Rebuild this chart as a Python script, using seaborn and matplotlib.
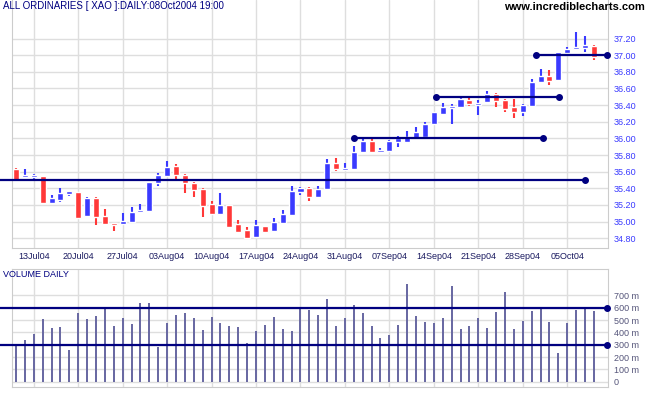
import numpy as np
import seaborn as sns
import matplotlib.pyplot as plt

# daily candles (index 0 = 9 Jul 2004)
opens = [35.63, 35.54, 35.54, 35.55, 35.22, 35.26, 35.33, 35.36, 35.07, 35.28,
         35.07, 34.98, 34.97, 35.00, 35.12, 35.13, 35.46, 35.55, 35.67, 35.56,
         35.46, 35.39, 35.21, 35.09, 35.20, 34.97, 34.90, 34.82, 34.95, 34.89,
         34.98, 35.08, 35.36, 35.40, 35.30, 35.39, 35.70, 35.62, 35.63, 35.84,
         35.97, 35.84, 35.85, 35.96, 35.96, 36.00, 36.02, 36.17, 36.29, 36.37,
         36.38, 36.46, 36.40, 36.44, 36.53, 36.46, 36.38, 36.32, 36.39, 36.68,
         36.75, 36.70, 37.03, 37.07, 37.09, 37.11]
highs = [35.64, 35.63, 35.57, 35.55, 35.32, 35.40, 35.37, 35.36, 35.29, 35.29,
         35.15, 34.98, 35.10, 35.18, 35.21, 35.48, 35.58, 35.73, 35.69, 35.57,
         35.47, 35.40, 35.25, 35.34, 35.20, 35.02, 34.94, 35.02, 34.95, 35.04,
         35.14, 35.43, 35.41, 35.41, 35.43, 35.75, 35.76, 35.70, 35.91, 35.99,
         36.00, 35.88, 35.98, 36.03, 36.09, 36.14, 36.20, 36.32, 36.43, 36.41,
         36.49, 36.51, 36.46, 36.57, 36.54, 36.47, 36.47, 36.41, 36.71, 36.83,
         36.82, 37.04, 37.10, 37.28, 37.23, 37.12]
lows = [35.49, 35.53, 35.49, 35.21, 35.22, 35.24, 35.31, 35.03, 35.06, 34.96,
        34.96, 34.89, 34.96, 34.99, 35.11, 35.12, 35.43, 35.54, 35.51, 35.34,
        35.30, 35.06, 35.08, 35.08, 34.92, 34.87, 34.80, 34.81, 34.86, 34.88,
        34.98, 35.07, 35.32, 35.25, 35.29, 35.39, 35.61, 35.61, 35.63, 35.83,
        35.83, 35.82, 35.84, 35.90, 35.95, 36.00, 36.01, 36.17, 36.28, 36.17,
        36.37, 36.39, 36.28, 36.43, 36.38, 36.32, 36.25, 36.27, 36.38, 36.67,
        36.64, 36.70, 37.02, 37.07, 37.04, 36.94]
closes = [35.50, 35.55, 35.56, 35.22, 35.28, 35.34, 35.37, 35.04, 35.28, 35.06,
          34.97, 34.96, 35.01, 35.12, 35.14, 35.48, 35.56, 35.66, 35.56, 35.46,
          35.38, 35.19, 35.09, 35.20, 34.94, 34.88, 34.80, 34.96, 34.88, 35.00,
          35.09, 35.37, 35.40, 35.30, 35.39, 35.70, 35.63, 35.64, 35.84, 35.97,
          35.84, 35.85, 35.97, 36.00, 36.02, 36.08, 36.17, 36.32, 36.38, 36.38,
          36.47, 36.41, 36.41, 36.53, 36.45, 36.35, 36.32, 36.40, 36.68, 36.75,
          36.69, 37.04, 37.07, 37.10, 37.12, 36.98]
volume = [297, 338, 387, 508, 435, 443, 257, 560, 508, 532,
          595, 451, 516, 468, 638, 638, 278, 476, 541, 557,
          516, 419, 524, 476, 451, 443, 314, 411, 460, 524,
          427, 411, 589, 581, 541, 670, 451, 516, 622, 557,
          451, 354, 378, 460, 792, 532, 484, 476, 516, 776,
          427, 451, 516, 435, 565, 727, 427, 492, 573, 605,
          484, 232, 476, 581, 605, 573]

date_labels = ["13Jul04", "20Jul04", "27Jul04", "03Aug04", "10Aug04", "17Aug04", "24Aug04",
               "31Aug04", "07Sep04", "14Sep04", "21Sep04", "28Sep04", "05Oct04"]

# horizontal support / resistance lines: level, start index, end index
price_levels = [35.50, 36.00, 36.50, 37.00]
level_starts = [-1.8, 38.0, 47.2, 58.5]
level_ends = [64.0, 59.3, 61.1, 66.5]
volume_levels = [600, 300]

W, H = 651, 395
BLUE = "#3a3aff"
RED = "#ff3838"
NAVY = "#000080"
GRID = "#dedede"

sns.set_style("white")
plt.rcParams['font.family'] = ['Liberation Sans', 'DejaVu Sans']

fig = plt.figure(figsize=(W / 100, H / 100), dpi=100)
ax = fig.add_axes([12 / W, 1 - 248.3 / H, 596 / W, 248.3 / H])
axv = fig.add_axes([12 / W, 1 - 386.7 / H, 596 / W, (386.7 - 269) / H])

o = np.array(opens)
c = np.array(closes)
x = np.arange(len(o))
cols = np.where(c >= o, BLUE, RED)

ax.vlines(x, lows, highs, colors=cols, lw=1.5, zorder=3)
ax.bar(x, np.maximum(np.abs(c - o), 0.022), bottom=np.minimum(o, c),
       width=0.68, color=cols, zorder=3)

for lvl, s, e in zip(price_levels, level_starts, level_ends):
    ax.plot([s, e], [lvl, lvl], color=NAVY, lw=1.6, clip_on=False, zorder=4)
    ax.plot([e], [lvl], "o", color=NAVY, ms=4, clip_on=False, zorder=4)
    if s > 0:
        ax.plot([s], [lvl], "o", color=NAVY, ms=4, zorder=4)

xmin, xmax = -0.45, 66.59
tick_pos = np.arange(2, len(o), 5)

ax.set_xlim(xmin, xmax)
ax.set_ylim(34.679, 37.663)
ax.set_xticks(tick_pos)
ax.set_xticklabels(date_labels, fontsize=6.5, color="#1a1a60")
yt = np.arange(34.8, 37.21, 0.2)
ax.set_yticks(yt)
ax.set_yticklabels([f"{v:.2f}" for v in yt], fontsize=6.5, color=BLUE)
ax.yaxis.tick_right()
ax.tick_params(length=0, pad=3)
ax.tick_params(axis="y", pad=4)
ax.grid(True, color=GRID, lw=1)
ax.set_axisbelow(True)
for side in ["left", "right", "bottom"]:
    ax.spines[side].set_color("#cccccc")
ax.spines["top"].set_visible(False)

# volume panel
sns.barplot(x=x, y=volume, native_scale=True, width=0.225, color="#6a6aa3",
            saturation=1, errorbar=None, linewidth=0, ax=axv, zorder=3)
for p in axv.patches:
    p.set_antialiased(False)
for lvl in volume_levels:
    axv.plot([-1.8, 66.5], [lvl, lvl], color=NAVY, lw=1.6, clip_on=False, zorder=4)
    axv.plot([66.5], [lvl], "o", color=NAVY, ms=4, clip_on=False, zorder=4)

axv.set_xlim(xmin, xmax)
axv.set_ylim(-40, 914)
axv.set_xticks(tick_pos)
axv.set_xticklabels([])
vt = np.arange(0, 701, 100)
axv.set_yticks(vt)
axv.set_yticklabels(["0"] + [f"{v} m" for v in vt[1:]], fontsize=6.5, color="#55557a")
axv.yaxis.tick_right()
axv.tick_params(length=0, pad=4)
axv.set_xlabel("")
axv.set_ylabel("")
axv.grid(True, color=GRID, lw=1)
axv.set_axisbelow(True)
for side in axv.spines:
    axv.spines[side].set_color("#cccccc")

fig.text(3 / W, 1 - 1 / H, "ALL ORDINARIES [ XAO ]:DAILY:08Oct2004 19:00",
         fontsize=7, color=NAVY, va="top", ha="left")
fig.text(645 / W, 1 - 2 / H, "www.incrediblecharts.com", fontsize=8,
         fontweight="bold", color="black", va="top", ha="right")
fig.text(3 / W, 1 - 270 / H, "VOLUME DAILY", fontsize=6.5, color=NAVY,
         va="top", ha="left")

fig.savefig("out.png", dpi=100)
